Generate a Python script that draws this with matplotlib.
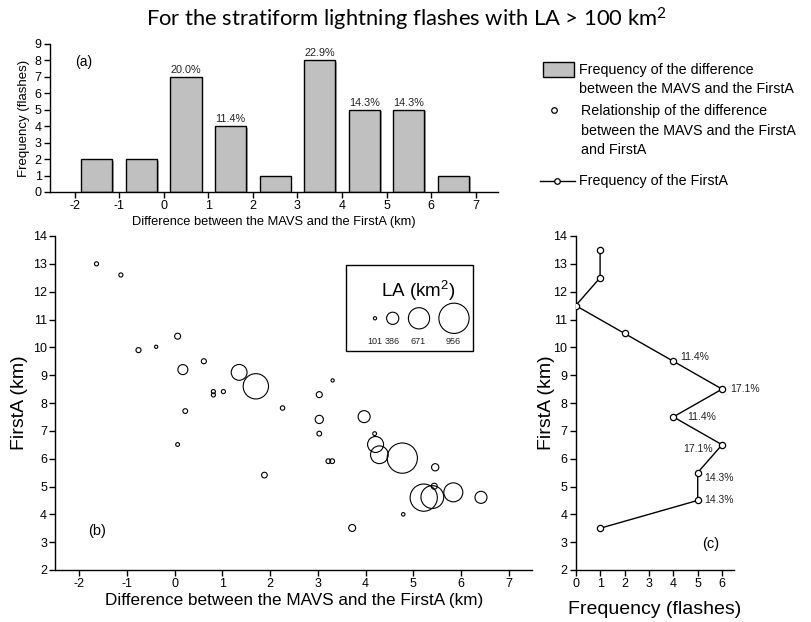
import matplotlib
matplotlib.use('Agg')
import matplotlib.pyplot as plt
from matplotlib.patches import Rectangle
from matplotlib.lines import Line2D
import matplotlib.patheffects as pe
import numpy as np

plt.rcParams['font.family'] = ['Liberation Sans', 'DejaVu Sans']
plt.rcParams['mathtext.default'] = 'regular'
plt.rcParams['axes.unicode_minus'] = False

# ---------------- data ----------------
# (a) histogram of the difference between MAVS and FirstA
diff_bin_centers = [-1.5, -0.5, 0.5, 1.5, 2.5, 3.5, 4.5, 5.5, 6.5]
diff_counts = [2, 2, 7, 4, 1, 8, 5, 5, 1]
diff_pct_labels = ['', '', '20.0%', '11.4%', '', '22.9%', '14.3%', '14.3%', '']

# (b) scatter: difference (km), FirstA (km), LA (km^2)
scatter_diff = [-1.64, -1.13, -0.76, -0.39, 0.06, 0.17, 0.61, 0.81, 0.81, 1.02,
                1.35, 1.70, 2.26, 3.03, 3.31, 0.06, 0.22, 1.88, 3.03, 3.03,
                3.22, 3.30, 3.97, 4.19, 4.21, 4.29, 4.77, 5.46, 5.44, 5.22,
                5.40, 5.84, 6.42, 4.79, 3.72]
scatter_firsta = [13.0, 12.6, 9.9, 10.02, 10.4, 9.2, 9.5, 8.41, 8.29, 8.41,
                  9.1, 8.6, 7.82, 8.3, 8.81, 6.51, 7.71, 5.41, 7.41, 6.9,
                  5.91, 5.91, 7.51, 6.9, 6.51, 6.14, 6.02, 5.69, 5.01, 4.60,
                  4.62, 4.79, 4.61, 4.0, 3.51]
scatter_la = [130, 130, 160, 101, 190, 316, 160, 130, 130, 130,
              500, 800, 140, 190, 101, 120, 150, 180, 260, 150,
              150, 150, 380, 120, 505, 560, 956, 230, 190, 860,
              720, 600, 380, 110, 220]
la_legend_values = [101, 386, 671, 956]

# (c) frequency of FirstA
firsta_bin_centers = [13.5, 12.5, 11.5, 10.5, 9.5, 8.5, 7.5, 6.5, 5.5, 4.5, 3.5]
firsta_counts = [1, 1, 0, 2, 4, 6, 4, 6, 5, 5, 1]
firsta_pct_labels = ['', '', '', '', '11.4%', '17.1%', '11.4%', '17.1%', '14.3%', '14.3%', '']
firsta_label_offsets = [None, None, None, None, (5, 3), (6, 0), (10, 0), (-7, -3), (5, -4), (5, 0), None]

# ---------------- figure ----------------
W, H = 812, 622
fig = plt.figure(figsize=(W / 100, H / 100), dpi=100)


def fbox(x0, y0, x1, y1):
    """pixel box (top-left origin) -> figure fraction rect"""
    return [x0 / W, 1 - y1 / H, (x1 - x0) / W, (y1 - y0) / H]


def la_to_s(la):
    d_pt = la / 31.6 * 0.72
    return d_pt ** 2


def style_axes(ax, fs):
    for sp in ['top', 'right']:
        ax.spines[sp].set_visible(False)
    for sp in ['left', 'bottom']:
        ax.spines[sp].set_linewidth(1.0)
    ax.tick_params(direction='out', length=4, width=1.0, labelsize=fs, pad=2)


# ---- panel (a)
axa = fig.add_axes(fbox(50, 44, 498, 192))
bars = axa.bar(diff_bin_centers, diff_counts, width=0.7, color='#c0c0c0',
               edgecolor='black', linewidth=1.0, zorder=2)
for b in bars:
    b.set_path_effects([pe.SimplePatchShadow(offset=(1.2, -1.2), shadow_rgbFace='#888888', alpha=0.7),
                        pe.Normal()])
for xc, c, lab in zip(diff_bin_centers, diff_counts, diff_pct_labels):
    if lab:
        axa.annotate(lab, (xc, c), xytext=(0, 1.5), textcoords='offset points',
                     ha='center', va='bottom', fontsize=7.8, color='#222222')
axa.set_xlim(-2.55, 7.5)
axa.set_ylim(0, 9)
axa.set_xticks(range(-2, 8))
axa.set_yticks(range(0, 10))
style_axes(axa, 9)
axa.set_xlabel('Difference between the MAVS and the FirstA (km)', fontsize=9.3, labelpad=3)
axa.set_ylabel('Frequency (flashes)', fontsize=9.5, labelpad=3)
axa.text(-1.8, 7.9, '(a)', fontsize=10, ha='center', va='center')

# ---- panel (b)
axb = fig.add_axes(fbox(55.5, 236, 532.5, 570))
axb.scatter(scatter_diff, scatter_firsta, s=[la_to_s(v) for v in scatter_la],
            facecolors='none', edgecolors='black', linewidths=0.8, zorder=3)
axb.set_xlim(-2.5, 7.5)
axb.set_ylim(2, 14)
axb.set_xticks(range(-2, 8))
axb.set_yticks(range(2, 15))
style_axes(axb, 9)
axb.set_xlabel('Difference between the MAVS and the FirstA (km)', fontsize=12.3, labelpad=2)
axb.set_ylabel('FirstA (km)', fontsize=14, labelpad=4)
axb.text(-1.62, 3.4, '(b)', fontsize=10.5, ha='center', va='center')

# LA size legend inside (b)
bx0, by0, bx1, by1 = 0.608, 0.657, 0.875, 0.914
axb.add_patch(Rectangle((bx0, by0), bx1 - bx0, by1 - by0, transform=axb.transAxes,
                        facecolor='white', edgecolor='black', linewidth=1.0, zorder=4))
axb.text(0.76, 0.835, 'LA (km$^{2}$)', transform=axb.transAxes, fontsize=13.5,
         ha='center', va='center', zorder=5)
leg_x = [(375 - 55.5) / 477, (392.7 - 55.5) / 477, (419 - 55.5) / 477, (454 - 55.5) / 477]
axb.scatter(leg_x, [0.7536] * 4, s=[la_to_s(v) for v in la_legend_values],
            facecolors='none', edgecolors='black', linewidths=0.8,
            transform=axb.transAxes, zorder=5, clip_on=False)
lab_x = [(375 - 55.5) / 477, (392.7 - 55.5) / 477, (417.7 - 55.5) / 477, (453 - 55.5) / 477]
for lx, v in zip(lab_x, la_legend_values):
    axb.text(lx, 0.6835, str(v), transform=axb.transAxes, fontsize=6.5,
             ha='center', va='center', zorder=5, color='#222222')

# ---- panel (c)
axc = fig.add_axes(fbox(575.7, 236, 734.3, 570))
axc.plot(firsta_counts, firsta_bin_centers, color='black', linewidth=1.0,
         marker='o', markersize=4.5, markerfacecolor='white', markeredgecolor='black',
         markeredgewidth=0.9, zorder=3)
for c, y, lab, off in zip(firsta_counts, firsta_bin_centers, firsta_pct_labels, firsta_label_offsets):
    if lab:
        axc.annotate(lab, (c, y), xytext=off, textcoords='offset points',
                     ha='left' if off[0] > 0 else 'right', va='center',
                     fontsize=7.5, color='#222222')
axc.set_xlim(0, 6.5)
axc.set_ylim(2, 14)
axc.set_xticks(range(0, 7))
axc.set_yticks(range(2, 15))
style_axes(axc, 9)
axc.set_xlabel('Frequency (flashes)', fontsize=14, labelpad=8)
axc.set_ylabel('FirstA (km)', fontsize=14, labelpad=-1)
axc.text(5.55, 2.94, '(c)', fontsize=10.5, ha='center', va='center')

# ---- title
fig.text(0.5, 1 - 19 / H, 'For the stratiform lightning flashes with LA > 100 km$^{2}$',
         ha='center', va='center', fontsize=15.8, family=['Lato', 'DejaVu Sans'])

# ---- legend (right side)
lg = fig.add_axes([0, 0, 1, 1], facecolor='none')
lg.set_xlim(0, W)
lg.set_ylim(H, 0)
lg.axis('off')
lfs = 10.3
lg.add_patch(Rectangle((543, 62), 31, 15, facecolor='#c0c0c0', edgecolor='black', linewidth=1.0))
lg.text(579, 70, 'Frequency of the difference', fontsize=lfs, ha='left', va='center')
lg.text(579, 89, 'between the MAVS and the FirstA', fontsize=lfs, ha='left', va='center')
lg.plot([554], [110], marker='o', markersize=4, markerfacecolor='white',
        markeredgecolor='black', markeredgewidth=0.9)
lg.text(581, 111, 'Relationship of the difference', fontsize=lfs, ha='left', va='center')
lg.text(581, 131, 'between the MAVS and the FirstA', fontsize=lfs, ha='left', va='center')
lg.text(581, 150, 'and FirstA', fontsize=lfs, ha='left', va='center')
lg.add_line(Line2D([540, 575], [181, 181], color='black', linewidth=1.0))
lg.plot([557], [181], marker='o', markersize=4, markerfacecolor='white',
        markeredgecolor='black', markeredgewidth=0.9)
lg.text(579, 181, 'Frequency of the FirstA', fontsize=lfs, ha='left', va='center')

fig.savefig('out.png', dpi=100)
